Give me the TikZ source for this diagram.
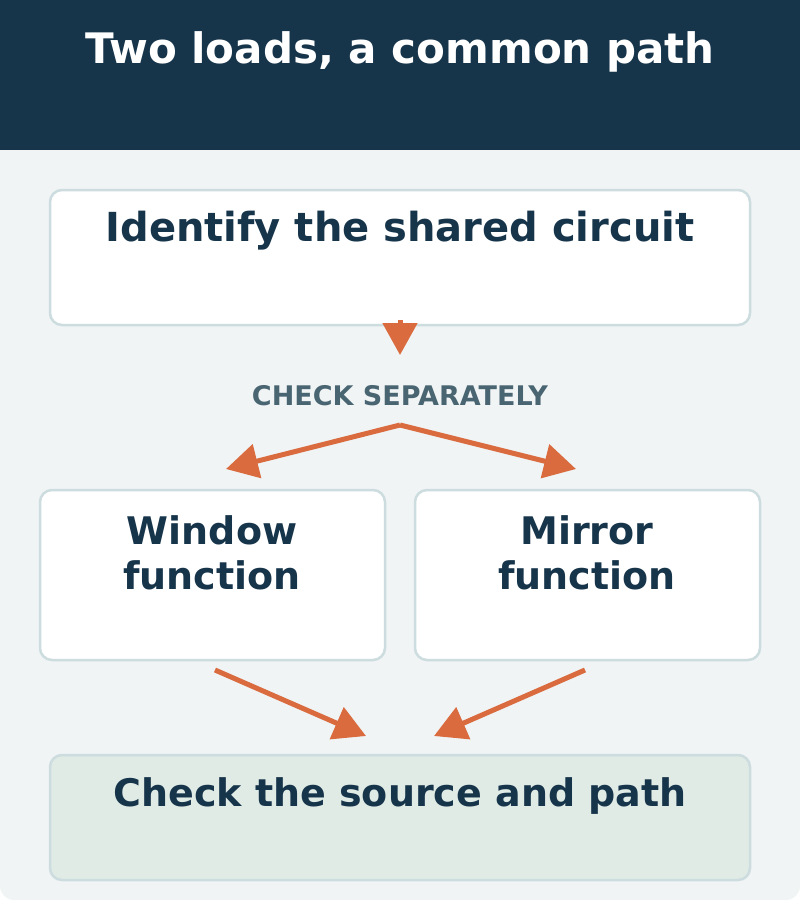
\documentclass[tikz,border=0pt]{standalone}
\usepackage{fontspec}
\setmainfont{DejaVu Sans}
\usetikzlibrary{arrows.meta}
\definecolor{navy}{HTML}{16344A}
\definecolor{pale}{HTML}{F0F4F5}
\definecolor{edge}{HTML}{CCDCDF}
\definecolor{rust}{HTML}{D96B3E}
\definecolor{slate}{HTML}{4A6572}
\definecolor{sage}{HTML}{E0EBE6}
\begin{document}
\begin{tikzpicture}[x=1pt,y=-1pt,
    box/.style={draw=edge, line width=2.5pt, rounded corners=12pt},
    lbl/.style={font=\bfseries\fontsize{38}{45}\selectfont, text=navy, align=center},
    flow/.style={draw=rust, line width=5pt, -{Triangle[length=32pt,width=34pt]}}]
  \useasboundingbox (0,0) rectangle (800,900);
  \fill[pale, rounded corners=14pt] (0,100) rectangle (800,900);
  \fill[navy] (0,0) rectangle (800,150);
  \node[font=\bfseries\fontsize{42}{50}\selectfont, text=white] (title) at (400,52) {Two loads, a common path};
  % boxes
  \filldraw[box, fill=white] (50,190) rectangle (750,325);
  \filldraw[box, fill=white] (40,490) rectangle (385,660);
  \filldraw[box, fill=white] (415,490) rectangle (760,660);
  \filldraw[box, fill=sage] (50,755) rectangle (750,880);
  \node[lbl, font=\bfseries\fontsize{40}{45}\selectfont] (shared) at (400,231) {Identify the shared circuit};
  \node[lbl] (window) at (212,553) {Window\\function};
  \node[lbl] (mirror) at (587,553) {Mirror\\function};
  \node[lbl] (source) at (400,796) {Check the source and path};
  \node[font=\bfseries\fontsize{27}{30}\selectfont, text=slate] (check) at (400,396) {CHECK SEPARATELY};
  % connectors
  \coordinate (a1) at (400,320); \coordinate (a2) at (400,355);
  \coordinate (fork) at (400,425);
  \coordinate (wIn) at (226,469); \coordinate (mIn) at (576,469);
  \coordinate (wOut) at (215,670); \coordinate (mOut) at (585,670);
  \coordinate (sL) at (366,736); \coordinate (sR) at (434,736);
  \draw[flow] (a1) -- (a2);
  \draw[flow] (fork) -- (wIn);
  \draw[flow] (fork) -- (mIn);
  \draw[flow] (wOut) -- (sL);
  \draw[flow] (mOut) -- (sR);
\end{tikzpicture}
\end{document}
